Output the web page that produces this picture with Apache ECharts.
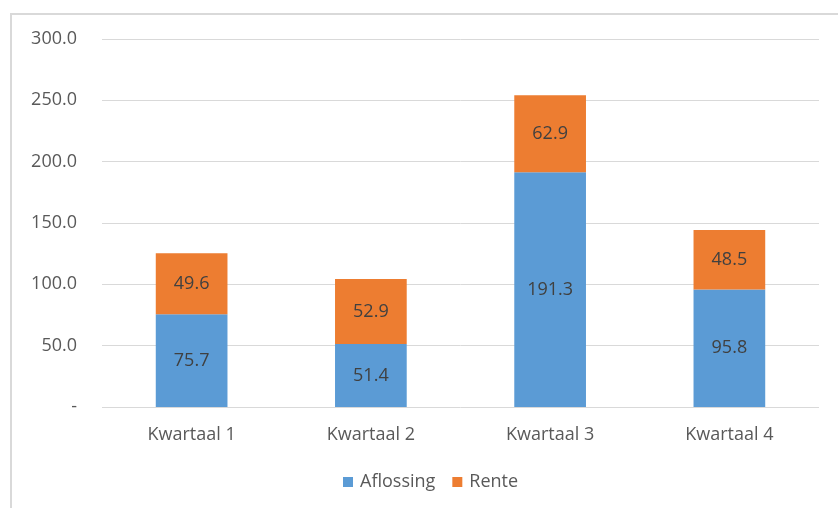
<!DOCTYPE html>
<html>
<head>
<meta charset="utf-8">
<script src="https://cdn.jsdelivr.net/npm/echarts@6/dist/echarts.min.js"></script>
<style>
  html, body { margin: 0; padding: 0; background: #fff; }
  #chart { width: 838px; height: 508px; }
</style>
</head>
<body>
<div id="chart"></div>
<script>
// Quarterly repayments split into principal (Aflossing) and interest (Rente)
const categories = ['Kwartaal 1', 'Kwartaal 2', 'Kwartaal 3', 'Kwartaal 4'];
const aflossing = [75.7, 51.4, 191.3, 95.8];
const rente = [49.6, 52.9, 62.9, 48.5];

const FONT = '"Open Sans", "Liberation Sans", sans-serif';
const TEXT = '#595959';
const SIZE = 18;

const chart = echarts.init(document.getElementById('chart'), null, { renderer: 'canvas' });

const labelStyle = {
  show: true,
  position: 'inside',
  color: '#404040',
  fontSize: SIZE,
  fontFamily: FONT,
  formatter: p => p.value.toFixed(1)
};

chart.setOption({
  animation: false,
  backgroundColor: '#fff',
  textStyle: { fontFamily: FONT },
  graphic: [
    { type: 'line', shape: { x1: 11, y1: 14, x2: 11, y2: 508 }, style: { stroke: '#d9d9d9', lineWidth: 2 } },
    { type: 'line', shape: { x1: 10, y1: 14, x2: 838, y2: 14 }, style: { stroke: '#d9d9d9', lineWidth: 2 } }
  ],
  grid: { left: 102, right: 19, top: 39, bottom: 101, containLabel: false },
  legend: {
    bottom: 12,
    left: 338,
    itemWidth: 10,
    itemHeight: 10,
    itemGap: 17,
    icon: 'rect',
    textStyle: { color: TEXT, fontSize: SIZE, fontFamily: FONT, padding: [0, 0, 0, 2] },
    data: ['Aflossing', 'Rente']
  },
  xAxis: {
    type: 'category',
    data: categories,
    axisLine: { show: false },
    axisTick: { show: false },
    axisLabel: { color: TEXT, fontSize: SIZE, fontFamily: FONT, margin: 19 }
  },
  yAxis: {
    type: 'value',
    min: 0,
    max: 300,
    interval: 50,
    axisLine: { show: false },
    axisTick: { show: false },
    axisLabel: {
      color: TEXT,
      fontSize: SIZE,
      fontFamily: FONT,
      margin: 25,
      formatter: v => (v === 0 ? '-' : v.toFixed(1))
    },
    splitLine: {
      show: true,
      lineStyle: { color: '#d9d9d9', width: 1 }
    }
  },
  series: [
    {
      name: 'Aflossing',
      type: 'bar',
      stack: 'total',
      barWidth: '40%',
      itemStyle: { color: '#5B9BD5' },
      label: labelStyle,
      data: aflossing
    },
    {
      name: 'Rente',
      type: 'bar',
      stack: 'total',
      barWidth: '40%',
      itemStyle: { color: '#ED7D31' },
      label: labelStyle,
      data: rente
    }
  ]
});
</script>
</body>
</html>
